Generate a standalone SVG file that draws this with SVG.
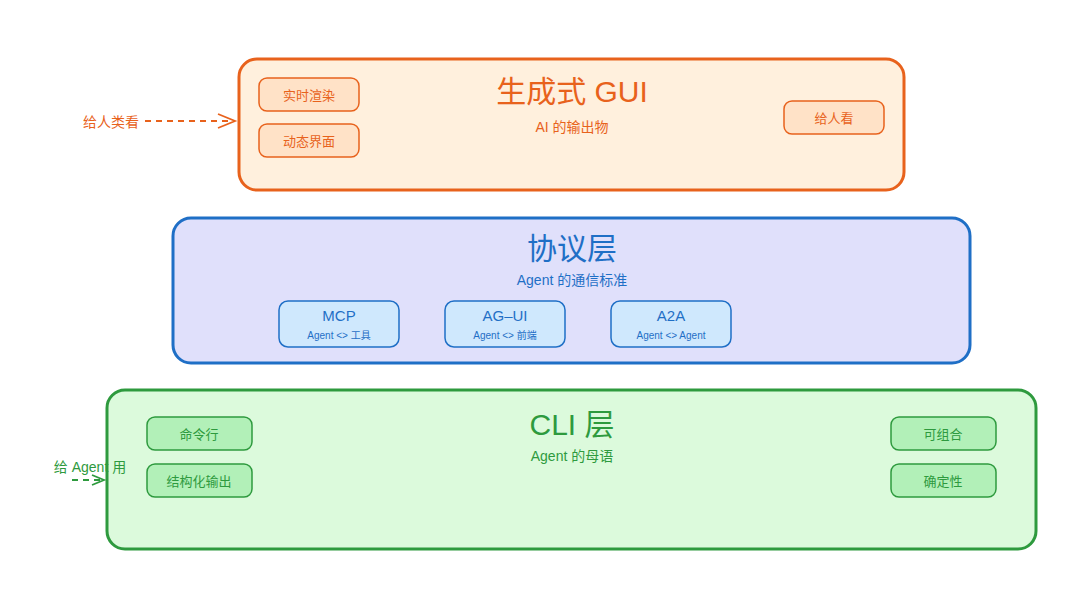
<svg xmlns="http://www.w3.org/2000/svg" width="1080" height="608" viewBox="0 0 1080 608">
<style>
text{font-family:"Liberation Sans","Noto Sans CJK SC",sans-serif;text-anchor:middle}
.o{fill:#e8621c}.b{fill:#1f6fc6}.g{fill:#2e9a3e}
.ob{fill:#ffe2c7;stroke:#e8621c;stroke-width:1.5}
.bb{fill:#cfe8fd;stroke:#1f6fc6;stroke-width:1.5}
.gb{fill:#b2f0b8;stroke:#2e9a3e;stroke-width:1.5}
</style>
<rect width="1080" height="608" fill="#fff"/>
<g id="gui">
<rect x="239" y="59" width="665" height="131" rx="18" fill="#fff0dd" stroke="#e8621c" stroke-width="3"/>
<text x="572" y="102" font-size="30" class="o">生成式 GUI</text>
<text x="572" y="132" font-size="14" class="o">AI 的输出物</text>
</g>
<g id="n-render"><rect x="259" y="78" width="100" height="33" rx="8" class="ob"/><text x="309" y="100" font-size="13" class="o">实时渲染</text></g>
<g id="n-dyn"><rect x="259" y="124" width="100" height="33" rx="8" class="ob"/><text x="309" y="146" font-size="13" class="o">动态界面</text></g>
<g id="n-see"><rect x="784" y="101" width="100" height="33" rx="8" class="ob"/><text x="834" y="123" font-size="13" class="o">给人看</text></g>
<g id="proto">
<rect x="173" y="218" width="797" height="145" rx="18" fill="#e0e0fb" stroke="#1f6fc6" stroke-width="3"/>
<text x="572" y="259" font-size="30" class="b">协议层</text>
<text x="572" y="285" font-size="14" class="b">Agent 的通信标准</text>
</g>
<g id="n-mcp"><rect x="279" y="301" width="120" height="46" rx="9" class="bb"/><text x="339" y="321" font-size="15" class="b">MCP</text><text x="339" y="339" font-size="10" class="b">Agent &lt;&gt; 工具</text></g>
<g id="n-agui"><rect x="445" y="301" width="120" height="46" rx="9" class="bb"/><text x="505" y="321" font-size="15" class="b">AG–UI</text><text x="505" y="339" font-size="10" class="b">Agent &lt;&gt; 前端</text></g>
<g id="n-a2a"><rect x="611" y="301" width="120" height="46" rx="9" class="bb"/><text x="671" y="321" font-size="15" class="b">A2A</text><text x="671" y="339" font-size="10" class="b">Agent &lt;&gt; Agent</text></g>
<g id="cli">
<rect x="107" y="390" width="929" height="159" rx="18" fill="#dcfadc" stroke="#2e9a3e" stroke-width="3"/>
<text x="572" y="435" font-size="30" class="g">CLI 层</text>
<text x="572" y="461" font-size="14" class="g">Agent 的母语</text>
</g>
<g id="n-cmd"><rect x="147" y="417" width="105" height="33" rx="8" class="gb"/><text x="199" y="439" font-size="13" class="g">命令行</text></g>
<g id="n-struct"><rect x="147" y="464" width="105" height="33" rx="8" class="gb"/><text x="199" y="486" font-size="13" class="g">结构化输出</text></g>
<g id="n-comp"><rect x="891" y="417" width="105" height="33" rx="8" class="gb"/><text x="943" y="439" font-size="13" class="g">可组合</text></g>
<g id="n-det"><rect x="891" y="464" width="105" height="33" rx="8" class="gb"/><text x="943" y="486" font-size="13" class="g">确定性</text></g>
<g id="labels">
<text x="111" y="127" font-size="14" class="o">给人类看</text>
<text x="90" y="472" font-size="14" class="g">给 Agent 用</text>
</g>
<g id="connectors" fill="none" stroke-width="1.8">
<path d="M145 121H234" stroke="#e8621c" stroke-dasharray="6 5"/>
<path d="M218 114L235 121L218 128" stroke="#e8621c"/>
<path d="M72 480H104" stroke="#2e9a3e" stroke-dasharray="6 5"/>
<path d="M92 475L104 480L92 485" stroke="#2e9a3e"/>
</g>
</svg>
